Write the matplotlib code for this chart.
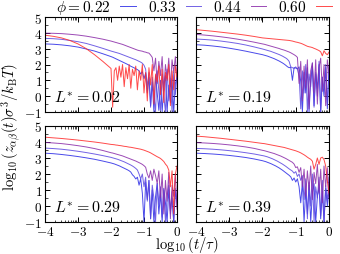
import numpy as np
import matplotlib
matplotlib.use("Agg")
import matplotlib.pyplot as plt
from matplotlib.ticker import FixedLocator, FuncFormatter

plt.rcParams['mathtext.fontset'] = 'cm'
plt.rcParams['font.family'] = ['DejaVu Serif']

# time axis: log10(t/tau)
x_coarse = [-4.0, -3.75, -3.5, -3.25, -3.0, -2.75, -2.5, -2.25, -2.0]
x_fine = list(np.round(np.arange(-1.95, 0.001, 0.05), 2))
x_vals = np.array(x_coarse + x_fine)

phi_labels = [r'$\phi = 0.22$', '$0.33$', '$0.44$', '$0.60$']
phi_colors = ['#2a2ae6', '#5a46e0', '#8a2aa8', '#ff2a2a']
L_labels = ['0.02', '0.19', '0.29', '0.39']

# ---- L* = 0.02 ----
L002_phi022 = [3.30, 3.28, 3.24, 3.18, 3.10, 2.98, 2.85, 2.68, 2.50, 2.46,
               2.41, 2.36, 2.31, 2.26, 2.21, 2.16, 2.11, 2.06, 2.01, 1.95,
               1.89, 1.84, 1.79, 1.73, 1.68, 1.60, 1.40, 1.55, 1.10, 1.45,
               0.20, 1.20, -0.60, 0.90, -1.00, 1.30, 0.20, -0.90, 1.00, -1.00,
               0.60, 1.30, -1.00, 0.70, -0.40, 1.10, -1.00, 0.80, 1.20]
L002_phi033 = [3.65, 3.63, 3.59, 3.52, 3.44, 3.33, 3.18, 3.02, 2.85, 2.82,
               2.79, 2.76, 2.73, 2.70, 2.66, 2.62, 2.58, 2.54, 2.50, 2.46,
               2.42, 2.38, 2.34, 2.30, 2.25, 2.20, 2.15, 2.08, 1.95, 1.70,
               0.60, 1.50, -0.70, 1.20, 0.10, -1.00, 1.60, 0.30, -0.90, 1.40,
               0.00, -1.00, 1.70, -0.30, 1.00, -1.00, 1.50, 0.10, 1.30]
L002_phi044 = [3.98, 3.97, 3.95, 3.91, 3.86, 3.79, 3.70, 3.60, 3.48, 3.45,
               3.42, 3.39, 3.36, 3.33, 3.30, 3.27, 3.23, 3.19, 3.15, 3.11,
               3.07, 3.03, 2.99, 2.95, 2.91, 2.88, 2.86, 2.84, 2.80, 2.78,
               2.74, 2.72, 2.60, 2.45, 1.60, 2.40, 0.80, 2.20, 1.30, 2.50,
               0.40, 2.00, 1.10, 2.40, 0.60, 2.30, 1.50, 2.50, 1.00]
L002_phi060 = [3.85, 3.78, 3.68, 3.52, 3.30, 3.00, 2.62, 2.20, 1.75, -0.70,
               1.60, 1.80, 1.00, 1.90, 1.20, 2.00, 0.60, 1.80, 1.10, 2.00,
               0.50, 1.70, 1.30, 1.90, 0.40, 1.60, 1.00, 2.00, 0.20, 1.50,
               -0.30, 1.80, 0.70, 2.00, -0.50, 1.40, 0.90, 1.90, 0.10, 1.70,
               -0.40, 1.50, 1.00, 2.00, -0.60, 1.60, 0.40, 1.90, 1.20]

# ---- L* = 0.19 ----
L019_phi022 = [3.25, 3.22, 3.17, 3.11, 3.03, 2.94, 2.84, 2.73, 2.62, 2.59,
               2.56, 2.53, 2.49, 2.45, 2.41, 2.37, 2.32, 2.27, 2.22, 2.16,
               2.10, 2.03, 1.95, 1.86, 1.80, 1.82, 1.00, 1.80, 1.78, 1.72,
               1.85, 0.90, -1.00, 1.50, 0.20, 1.80, -1.00, 1.00, 1.90, -0.60,
               1.40, 0.50, 2.00, -1.00, 1.20, 0.00, 1.80, -0.80, 1.90]
L019_phi033 = [3.61, 3.58, 3.54, 3.48, 3.41, 3.33, 3.23, 3.11, 2.98, 2.95,
               2.92, 2.89, 2.86, 2.83, 2.79, 2.75, 2.71, 2.67, 2.63, 2.58,
               2.53, 2.47, 2.41, 2.33, 2.20, 1.85, 1.80, 1.75, 1.85, 1.70,
               1.30, -0.80, 1.60, 0.20, 2.00, -1.00, 1.40, 0.60, 2.10, -0.70,
               1.50, 0.00, 2.20, -1.00, 1.20, 0.40, 2.00, -0.60, 1.60]
L019_phi044 = [3.90, 3.86, 3.81, 3.75, 3.68, 3.60, 3.51, 3.41, 3.30, 3.28,
               3.25, 3.22, 3.19, 3.16, 3.13, 3.10, 3.07, 3.04, 3.01, 2.97,
               2.94, 2.91, 2.87, 2.83, 2.79, 2.74, 2.68, 2.62, 2.55, 2.45,
               0.80, 2.20, -0.30, 1.90, 0.50, 2.30, -0.80, 1.60, 2.10, 0.20,
               2.30, -0.50, 1.80, 2.40, 0.30, 2.00, -0.60, 2.30, 1.40]
L019_phi060 = [4.20, 4.15, 4.10, 4.04, 3.98, 3.92, 3.85, 3.77, 3.68, 3.67,
               3.66, 3.65, 3.64, 3.63, 3.62, 3.61, 3.60, 3.59, 3.58, 3.57,
               3.56, 3.55, 3.54, 3.53, 3.52, 3.50, 3.48, 3.45, 3.42, 3.40,
               3.37, 3.34, 3.30, 3.25, 3.20, 3.15, 3.12, 3.10, 3.07, 3.02,
               2.98, 2.93, 2.88, 2.80, 2.55, 2.87, 2.70, 2.62, 2.78]

# ---- L* = 0.29 ----
L029_phi022 = [3.30, 3.27, 3.22, 3.16, 3.09, 3.01, 2.92, 2.81, 2.69, 2.66,
               2.63, 2.59, 2.55, 2.51, 2.46, 2.41, 2.36, 2.31, 2.26, 2.20,
               2.12, 1.95, 1.85, 1.69, 1.80, 1.30, 1.70, 0.80, -1.00, 1.50,
               0.40, 1.60, -0.80, 1.00, -1.00, 0.60, 1.40, -0.50, 0.80, -1.00,
               1.10, 0.20, -1.00, 1.00, -0.30, 0.50, -1.00, 0.90, 0.30]
L029_phi033 = [3.62, 3.59, 3.55, 3.49, 3.42, 3.34, 3.25, 3.15, 3.04, 3.01,
               2.98, 2.95, 2.92, 2.88, 2.84, 2.80, 2.76, 2.71, 2.66, 2.61,
               2.56, 2.50, 2.43, 2.35, 2.25, 2.00, 1.70, 2.00, 1.20, 1.80,
               0.30, 1.60, -0.80, 1.30, 0.50, -1.00, 1.40, 0.10, 1.20, -0.70,
               1.00, -1.00, 0.60, 1.30, -0.50, 0.90, -1.00, 1.10, 0.00]
L029_phi044 = [3.97, 3.94, 3.90, 3.84, 3.77, 3.69, 3.59, 3.47, 3.33, 3.31,
               3.28, 3.25, 3.22, 3.19, 3.16, 3.13, 3.09, 3.05, 3.01, 2.97,
               2.93, 2.89, 2.85, 2.81, 2.76, 2.71, 2.66, 2.60, 2.52, 2.42,
               2.00, 1.75, 2.20, 1.60, 2.30, 1.90, 1.40, 2.20, 0.50, 2.00,
               -0.50, 1.60, 0.30, 2.10, -0.80, 1.30, 0.60, 2.00, -0.20]
L029_phi060 = [4.30, 4.26, 4.22, 4.17, 4.12, 4.06, 4.00, 3.93, 3.85, 3.84,
               3.83, 3.81, 3.80, 3.78, 3.77, 3.75, 3.73, 3.72, 3.70, 3.68,
               3.67, 3.65, 3.63, 3.61, 3.59, 3.57, 3.55, 3.52, 3.49, 3.45,
               3.41, 3.37, 3.32, 3.26, 3.20, 3.14, 3.08, 3.03, 2.97, 2.88,
               2.78, 2.62, 2.50, 2.25, 1.20, 2.20, -0.50, 2.00, 2.50]

# ---- L* = 0.39 ----
L039_phi022 = [3.30, 3.28, 3.25, 3.21, 3.16, 3.10, 3.03, 2.94, 2.83, 2.80,
               2.77, 2.73, 2.69, 2.65, 2.60, 2.55, 2.50, 2.44, 2.38, 2.31,
               2.24, 2.16, 2.08, 2.00, 1.92, 1.82, 1.60, 1.75, 1.50, 1.70,
               1.20, 0.20, 1.50, -1.00, 1.00, -0.50, 1.30, -1.00, 0.80, 1.40,
               -1.00, 0.60, 1.20, -0.80, 0.90, -1.00, 1.10, 0.00, 1.00]
L039_phi033 = [3.60, 3.58, 3.55, 3.51, 3.46, 3.40, 3.33, 3.25, 3.15, 3.13,
               3.10, 3.07, 3.03, 2.99, 2.95, 2.90, 2.85, 2.80, 2.74, 2.68,
               2.62, 2.55, 2.48, 2.40, 2.32, 2.25, 2.18, 2.05, 2.15, 1.85,
               2.00, 1.60, 1.90, 0.40, 1.70, -0.80, 1.50, 0.00, 2.00, -1.00,
               1.20, 0.50, 1.80, -0.60, 1.60, -1.00, 1.30, 0.30, 1.80]
L039_phi044 = [3.96, 3.94, 3.91, 3.87, 3.82, 3.76, 3.69, 3.60, 3.48, 3.46,
               3.43, 3.40, 3.37, 3.34, 3.31, 3.28, 3.24, 3.20, 3.16, 3.12,
               3.07, 3.02, 2.97, 2.91, 2.85, 2.79, 2.73, 2.62, 2.40, 2.45,
               2.10, 2.40, 1.20, 2.30, 0.60, 2.20, 1.00, 2.50, 0.40, 2.10,
               1.40, 2.60, 0.80, 2.30, 0.20, 2.50, 1.20, 2.40, 0.50]
L039_phi060 = [4.37, 4.33, 4.28, 4.23, 4.17, 4.11, 4.05, 3.98, 3.91, 3.90,
               3.88, 3.86, 3.84, 3.82, 3.80, 3.78, 3.76, 3.74, 3.72, 3.70,
               3.68, 3.66, 3.63, 3.60, 3.57, 3.54, 3.51, 3.48, 3.45, 3.41,
               3.37, 3.32, 3.26, 3.20, 3.13, 3.05, 2.98, 2.92, 2.80, 2.30,
               2.60, 3.00, 2.60, 3.00, 3.05, 2.90, 2.50, 1.60, 0.80]

panels = [
    [L002_phi022, L002_phi033, L002_phi044, L002_phi060],
    [L019_phi022, L019_phi033, L019_phi044, L019_phi060],
    [L029_phi022, L029_phi033, L029_phi044, L029_phi060],
    [L039_phi022, L039_phi033, L039_phi044, L039_phi060],
]

W, H = 340, 255
fig = plt.figure(figsize=(W / 100, H / 100), dpi=100)
boxes = [(45, 18, 177, 113), (196, 18, 329, 113),
         (45, 127, 177, 223), (196, 127, 329, 223)]

minor_x = []
for d in range(-4, 0):
    for m in range(2, 10):
        minor_x.append(d + np.log10(m))

fmt = FuncFormatter(lambda v, p: r'$%d$' % int(round(v)))

handles = []
for i, (x0, y0, x1, y1) in enumerate(boxes):
    ax = fig.add_axes([x0 / W, 1 - y1 / H, (x1 - x0) / W, (y1 - y0) / H])
    for j, ys in enumerate(panels[i]):
        ln, = ax.plot(x_vals, ys, color=phi_colors[j], lw=0.7, alpha=0.85)
        if i == 0:
            handles.append(ln)
    ax.set_xlim(-4, 0)
    ax.set_ylim(-1, 5)
    ax.xaxis.set_major_locator(FixedLocator([-4, -3, -2, -1, 0]))
    ax.xaxis.set_minor_locator(FixedLocator(minor_x))
    ax.yaxis.set_major_locator(FixedLocator([-1, 0, 1, 2, 3, 4, 5]))
    ax.yaxis.set_minor_locator(FixedLocator(list(np.arange(-0.5, 5, 1.0))))
    ax.xaxis.set_major_formatter(fmt)
    ax.yaxis.set_major_formatter(fmt)
    ax.tick_params(which='both', direction='in', top=True, right=True,
                   labelsize=9.5, pad=2)
    ax.tick_params(which='major', length=3.5, width=0.7)
    ax.tick_params(which='minor', length=1.8, width=0.5)
    if i < 2:
        ax.tick_params(labelbottom=False)
    if i % 2 == 1:
        ax.tick_params(labelleft=False)
    for s in ax.spines.values():
        s.set_linewidth(0.8)
    ax.text(0.07, 0.06, r'$L^{*} = %s$' % L_labels[i],
            transform=ax.transAxes, fontsize=11.5, ha='left', va='bottom')

fig.text(0.032, 0.5, r'$\log_{10}(z_{\alpha\beta}(t)\sigma^3/k_{\rm B}T)$',
         rotation=90, ha='center', va='center', fontsize=10.5)
fig.text(187 / W, 1 - 245 / H, r'$\log_{10}(t/\tau)$',
         ha='center', va='center', fontsize=10.5)

fig.legend(handles, phi_labels, ncol=4, loc='center', markerfirst=False,
           bbox_to_anchor=(194 / W, 1 - 8 / H), frameon=False, fontsize=11,
           handlelength=1.0, handletextpad=0.6, columnspacing=0.8,
           borderpad=0, borderaxespad=0)

fig.savefig('out.png', dpi=100)
